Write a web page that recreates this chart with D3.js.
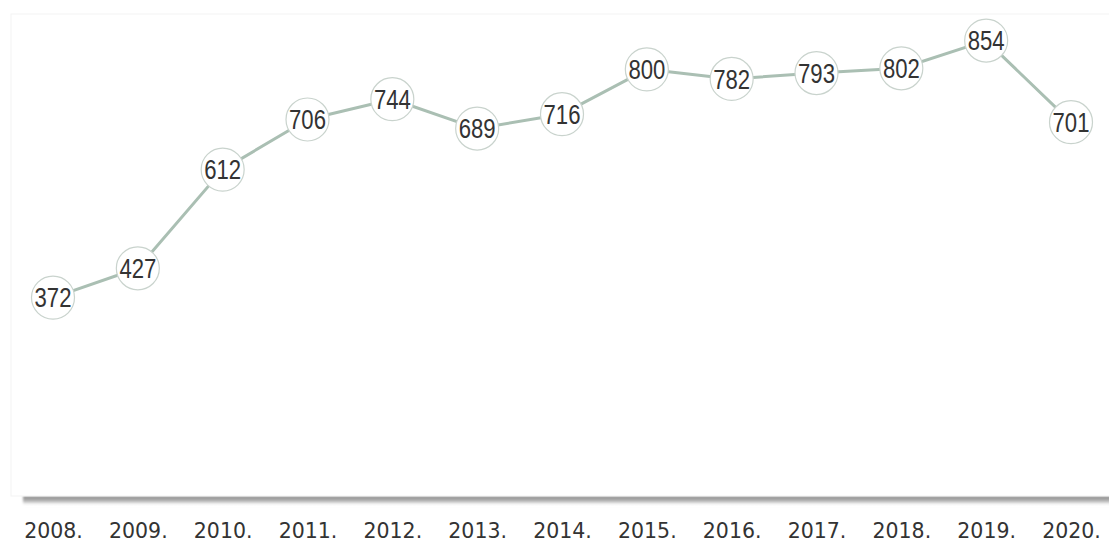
<!DOCTYPE html>
<html>
<head>
<meta charset="utf-8">
<script src="https://cdn.jsdelivr.net/npm/d3@7"></script>
<style>
  html, body { margin: 0; padding: 0; background: #ffffff; }
  svg { display: block; }
</style>
</head>
<body>
<svg id="chart" width="1109" height="542"></svg>
<script>
// Yearly totals, 2008–2020
const years = ["2008.", "2009.", "2010.", "2011.", "2012.", "2013.", "2014.",
               "2015.", "2016.", "2017.", "2018.", "2019.", "2020."];
const values = [372, 427, 612, 706, 744, 689, 716, 800, 782, 793, 802, 854, 701];
const yDomain = [0, 900];

const panel = { left: 11, top: 14, right: 1109, bottom: 496 };

const svg = d3.select("#chart");
const defs = svg.append("defs");

// soft shadow under the plotting panel
const grad = defs.append("linearGradient")
  .attr("id", "shadow").attr("x1", 0).attr("y1", 0).attr("x2", 0).attr("y2", 1);
grad.append("stop").attr("offset", "0%").attr("stop-color", "#858585").attr("stop-opacity", 0.95);
grad.append("stop").attr("offset", "50%").attr("stop-color", "#9a9a9a").attr("stop-opacity", 0.75);
grad.append("stop").attr("offset", "100%").attr("stop-color", "#ffffff").attr("stop-opacity", 0);

const blur = defs.append("filter").attr("id", "soft")
  .attr("x", "-5%").attr("y", "-100%").attr("width", "110%").attr("height", "300%");
blur.append("feGaussianBlur").attr("stdDeviation", 1.2);

svg.append("rect")
  .attr("x", panel.left + 12).attr("y", panel.bottom)
  .attr("width", panel.right - panel.left).attr("height", 10)
  .attr("fill", "url(#shadow)")
  .attr("filter", "url(#soft)");

// panel with faint edge
svg.append("rect")
  .attr("x", panel.left).attr("y", panel.top)
  .attr("width", panel.right - panel.left + 2).attr("height", panel.bottom - panel.top)
  .attr("fill", "#ffffff")
  .attr("stroke", "#f3f3f3").attr("stroke-width", 1);

const x = d3.scalePoint()
  .domain(years)
  .range([53, 1071]);

const y = d3.scaleLinear()
  .domain(yDomain)
  .range([panel.bottom, panel.bottom - (yDomain[1] - yDomain[0]) * 0.5333]);

const data = years.map((yr, i) => ({ year: yr, value: values[i] }));

// x axis labels
const xAxis = d3.axisBottom(x).tickSize(0).tickPadding(0);
const gx = svg.append("g")
  .attr("transform", `translate(0, ${panel.bottom + 27})`)
  .call(xAxis);
gx.select(".domain").remove();
gx.selectAll("text")
  .attr("dy", "0.71em")
  .attr("fill", "#333333")
  .style("font-family", "'DejaVu Sans', Verdana, sans-serif")
  .style("font-size", "20.5px");

// connecting line
const line = d3.line()
  .x(d => x(d.year))
  .y(d => y(d.value));

svg.append("path")
  .datum(data)
  .attr("d", line)
  .attr("fill", "none")
  .attr("stroke", "#aabfb3")
  .attr("stroke-width", 3)
  .attr("stroke-linejoin", "round");

// value bubbles
const pts = svg.append("g").selectAll("g")
  .data(data)
  .join("g")
  .attr("transform", d => `translate(${x(d.year)}, ${y(d.value)})`);

pts.append("circle")
  .attr("r", 21.5)
  .attr("fill", "#ffffff")
  .attr("stroke", "#c9d3cd")
  .attr("stroke-width", 1.2);

// narrow value labels: regular sans squeezed horizontally
pts.append("text")
  .text(d => d.value)
  .attr("text-anchor", "middle")
  .attr("dy", "0.36em")
  .attr("transform", "scale(0.82, 1)")
  .attr("fill", "#333333")
  .style("font-family", "'Liberation Sans', Arial, sans-serif")
  .style("font-size", "27px");
</script>
</body>
</html>
